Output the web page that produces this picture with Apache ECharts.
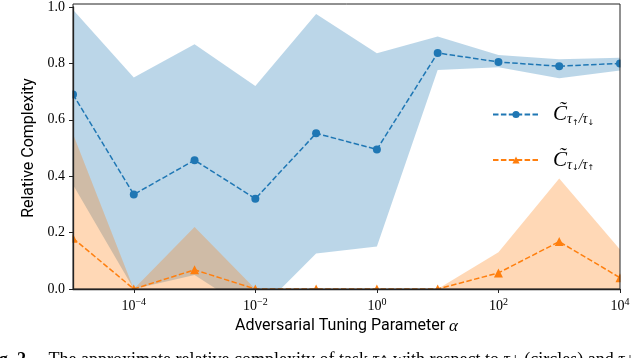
<!DOCTYPE html>
<html>
<head>
<meta charset="utf-8">
<script src="https://cdn.jsdelivr.net/npm/echarts@6/dist/echarts.min.js"></script>
<style>
html,body{margin:0;padding:0;background:#fff;}
#chart{width:640px;height:358px;}
</style>
</head>
<body>
<div id="chart"></div>
<script>
// ---- data ----
const alphaValues = [1e-5, 1e-4, 1e-3, 1e-2, 1e-1, 1e0, 1e1, 1e2, 1e3, 1e4];
const upDownMean  = [0.69, 0.335, 0.457, 0.32, 0.552, 0.495, 0.837, 0.805, 0.79, 0.80];
const upDownHigh  = [0.99, 0.75, 0.868, 0.72, 0.975, 0.836, 0.895, 0.83, 0.815, 0.82];
const upDownLow   = [0.37, 0.0, 0.05, -0.09, 0.126, 0.151, 0.777, 0.786, 0.747, 0.775];
const downUpMean  = [0.18, 0.0, 0.068, 0.0, 0.0, 0.0, 0.0, 0.057, 0.168, 0.04];
const downUpHigh  = [0.55, 0.0, 0.22, 0.0, 0.0, 0.0, 0.0, 0.13, 0.392, 0.14];
const downUpLow   = [0.0, 0.0, 0.0, 0.0, 0.0, 0.0, 0.0, 0.0, 0.0, 0.0];
const xTickValues = [1e-4, 1e-2, 1e0, 1e2, 1e4];
const yTickLabels = ['0.0', '0.2', '0.4', '0.6', '0.8', '1.0'];

const BLUE = '#1f77b4', ORANGE = '#ff7f0e';
const pairs = (ys) => alphaValues.map((x, i) => [x, ys[i]]);

const chart = echarts.init(document.getElementById('chart'));
const gridL = 73, gridT = 4, gridR = 620, gridB = 289;

function band(name, hi, lo, color) {
  const data = alphaValues.map((x, i) => [x, lo[i], hi[i]]);
  return {
    type: 'custom', name: name, silent: true, z: 1, clip: true,
    data: data,
    encode: { x: 0, y: [1, 2] },
    renderItem: function (params, api) {
      if (params.dataIndex !== 0) return null;
      const pts = [];
      for (let i = 0; i < data.length; i++) pts.push(api.coord([data[i][0], data[i][2]]));
      for (let i = data.length - 1; i >= 0; i--) pts.push(api.coord([data[i][0], data[i][1]]));
      return { type: 'polygon', shape: { points: pts }, style: { fill: color, stroke: null } };
    }
  };
}

const option = {
  animation: false,
  backgroundColor: '#fff',
  grid: { left: gridL, top: gridT, right: 640 - gridR, bottom: 358 - gridB, show: false },
  xAxis: {
    type: 'log', logBase: 10, min: 1e-5, max: 1e4, z: 10,
    name: 'Adversarial Tuning Parameter {a|α}', nameLocation: 'middle', nameGap: 23,
    nameTextStyle: { fontFamily: 'Roboto', fontSize: 16, color: '#000',
      rich: { a: { fontFamily: 'Liberation Serif', fontStyle: 'italic', fontSize: 17, color: '#000' } } },
    axisLine: { lineStyle: { color: '#222', width: 1.3 } },
    axisTick: { show: true, inside: false, length: 4, customValues: xTickValues, lineStyle: { color: '#222', width: 1 } },
    minorTick: { show: false },
    splitLine: { show: false },
    axisLabel: {
      margin: 8, color: '#000', customValues: xTickValues,
      formatter: function (v) {
        const e = Math.round(Math.log10(v));
        const s = String(e).replace('-', '\u2212');
        return '{b|10}{e|' + s + '}';
      },
      rich: {
        b: { fontFamily: 'Liberation Serif', fontSize: 14, color: '#000', lineHeight: 16, verticalAlign: 'bottom' },
        e: { fontFamily: 'Liberation Serif', fontSize: 10, color: '#000', lineHeight: 16, verticalAlign: 'top', padding: [0, 0, 6, 0] }
      }
    }
  },
  yAxis: {
    type: 'value', min: 0, max: 1, interval: 0.2, z: 10,
    name: 'Relative Complexity', nameLocation: 'middle', nameGap: 30,
    nameTextStyle: { fontFamily: 'Roboto', fontSize: 16, color: '#000' },
    axisLine: { show: true, lineStyle: { color: '#222', width: 1.3 } },
    axisTick: { show: true, inside: false, length: 4, lineStyle: { color: '#222', width: 1 } },
    splitLine: { show: false },
    axisLabel: {
      margin: 8, color: '#000', fontFamily: 'Liberation Serif', fontSize: 14,
      formatter: function (v) { return yTickLabels[Math.round(v * 5)]; }
    }
  },
  legend: {
    orient: 'vertical', left: 487, top: 99, itemWidth: 46, itemHeight: 9, itemGap: 23,
    data: ['upDown', 'downUp'],
    formatter: function (n) {
      return n === 'upDown'
        ? '{c|C\u0303}{s|τ}{a|↑}{s|/τ}{a|↓}'
        : '{c|C\u0303}{s|τ}{a|↓}{s|/τ}{a|↑}';
    },
    textStyle: {
      padding: [0, 0, 0, 9],
      rich: {
        c: { fontFamily: 'Liberation Serif', fontStyle: 'italic', fontSize: 21, color: '#000', lineHeight: 24, verticalAlign: 'middle' },
        s: { fontFamily: 'Liberation Serif', fontStyle: 'italic', fontSize: 14, color: '#000', lineHeight: 24, verticalAlign: 'bottom' },
        a: { fontFamily: 'DejaVu Sans', fontSize: 8, color: '#000', lineHeight: 24, verticalAlign: 'bottom' }
      }
    }
  },
  series: [
    band('upDownBand', upDownHigh, upDownLow, 'rgba(31,119,180,0.3)'),
    band('downUpBand', downUpHigh, downUpLow, 'rgba(255,127,14,0.3)'),
    { type: 'line', name: 'upDown', data: pairs(upDownMean), symbol: 'circle', symbolSize: 8,
      lineStyle: { color: BLUE, width: 1.5, type: [5.5, 2.4] }, itemStyle: { color: BLUE }, z: 3, clip: true },
    { type: 'line', name: 'downUp', data: pairs(downUpMean), symbol: 'triangle', symbolSize: 9,
      lineStyle: { color: ORANGE, width: 1.5, type: [5.5, 2.4] }, itemStyle: { color: ORANGE }, z: 3, clip: true }
  ],
  graphic: [
    { type: 'rect', z: 5, silent: true, shape: { x: 55, y: gridB + 0.6, width: 585, height: 6 }, style: { fill: '#fff' } },
    { type: 'rect', z: 5, silent: true, shape: { x: 60, y: 0, width: gridL - 60 - 0.5, height: gridB + 6 }, style: { fill: '#fff' } },
    { type: 'rect', z: 5, silent: true, shape: { x: gridR + 0.5, y: 0, width: 640 - gridR, height: gridB + 6 }, style: { fill: '#fff' } },
    { type: 'rect', z: 20, silent: true, shape: { x: gridL, y: gridT, width: gridR - gridL, height: gridB - gridT },
      style: { fill: 'none', stroke: '#222', lineWidth: 1 } },
    { type: 'text', z: 20, silent: true, left: -17, top: 351,
      style: { text: '{b|Fig. 2.}\u2003The approximate relative complexity of task τ↑ with respect to τ↓ (circles) and τ↓',
        font: '18px "Liberation Serif"', fill: '#000',
        rich: { b: { fontWeight: 'bold', fontFamily: 'Liberation Serif', fontSize: 18 } } } }
  ]
};
chart.setOption(option);
</script>
</body>
</html>
